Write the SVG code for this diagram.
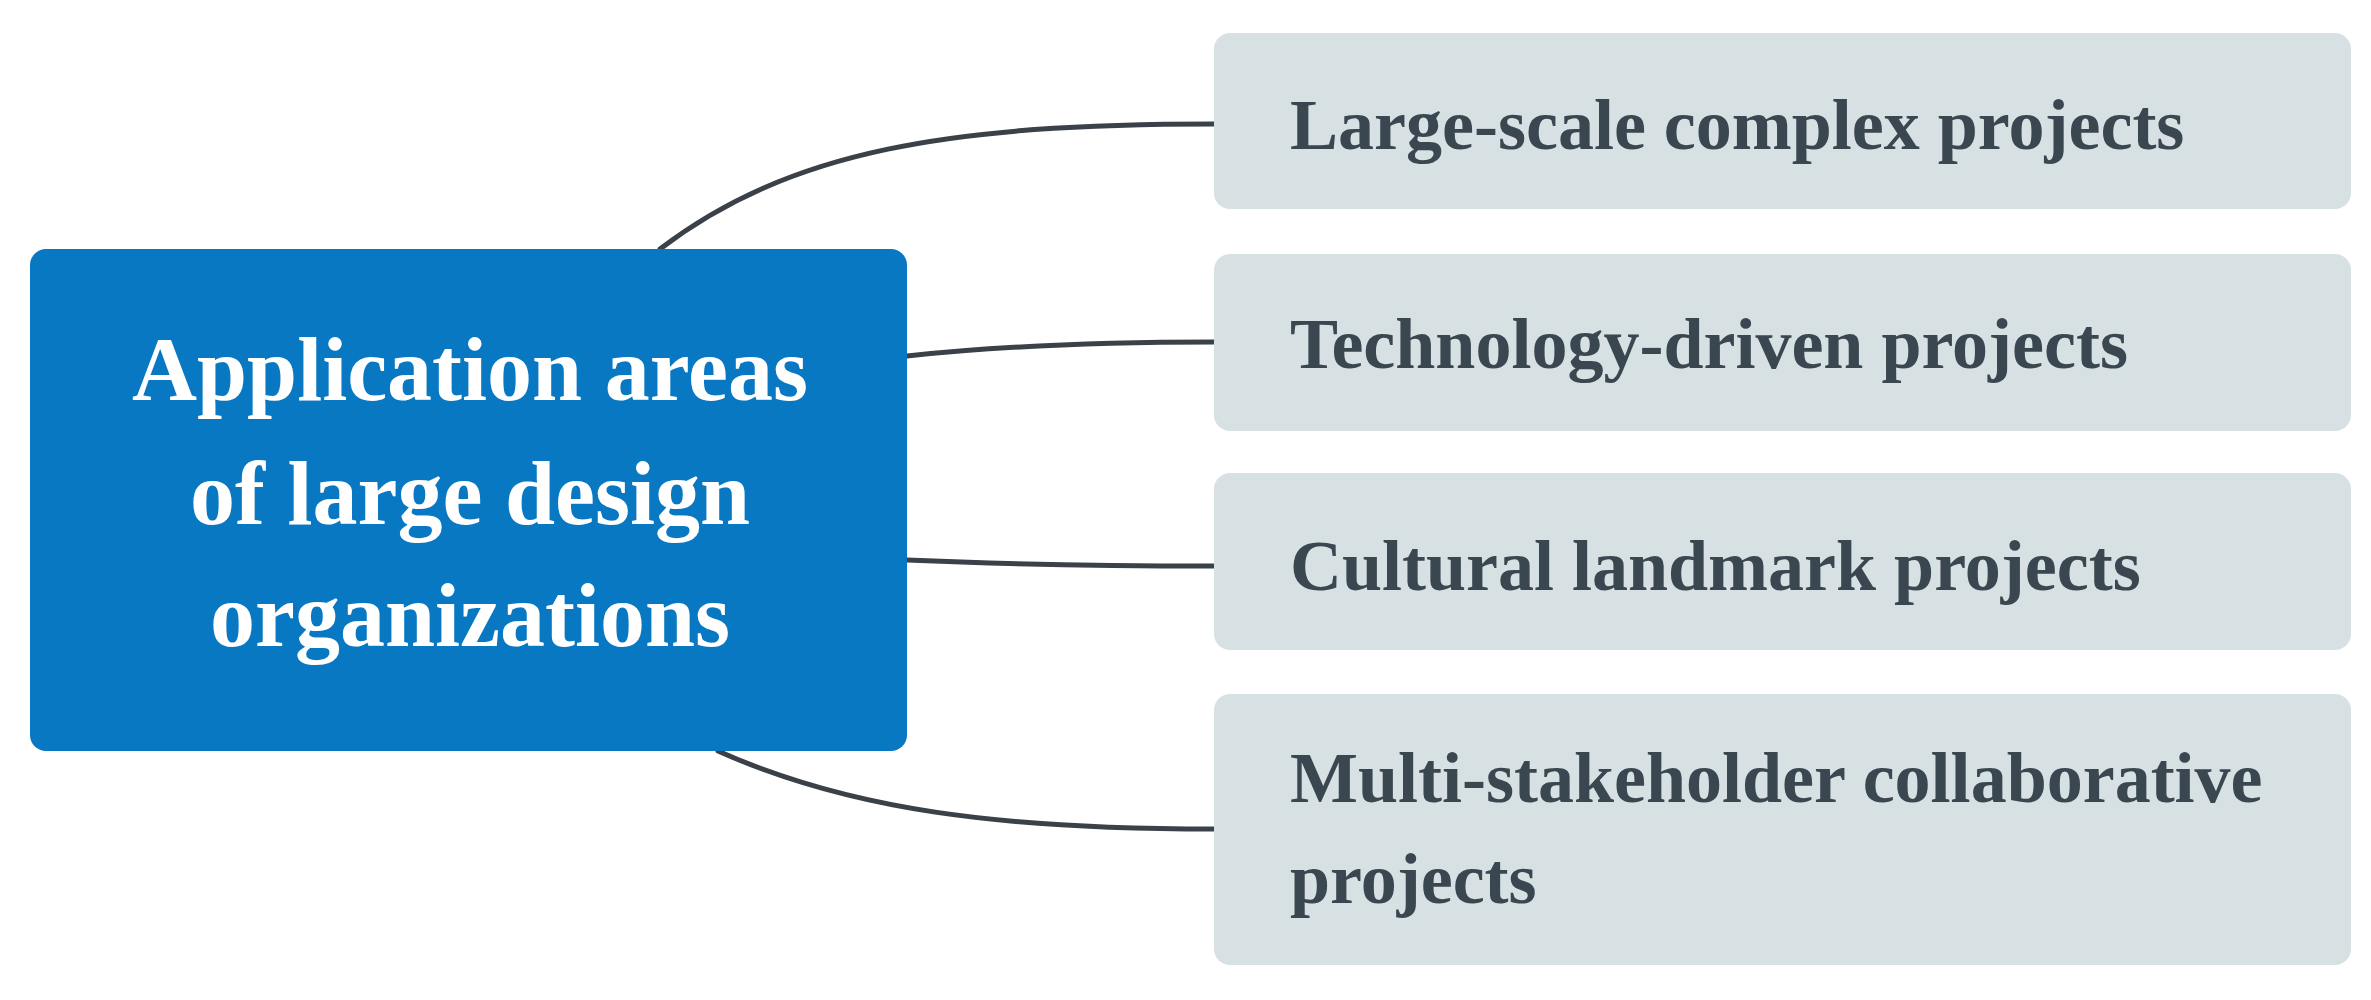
<svg xmlns="http://www.w3.org/2000/svg" width="2371" height="1000" viewBox="0 0 2371 1000">
<style>
.bg{fill:#ffffff}
.root{fill:#0878c2}
.leaf{fill:#d7e1e3}
.rt{font-family:"Liberation Serif","Times New Roman",serif;font-weight:bold;font-size:90px;fill:#ffffff;text-anchor:middle}
.lt{font-family:"Liberation Serif","Times New Roman",serif;font-weight:bold;font-size:72px;fill:#3b4750}
.conn{fill:none;stroke:#3a4148;stroke-width:5;stroke-linecap:round}
</style>
<rect class="bg" x="0" y="0" width="2371" height="1000"/>
<g id="connectors">
<path class="conn" d="M660 249 C790 150 950 124 1214 124"/>
<path class="conn" d="M907 356 C1000 346 1100 342 1214 342"/>
<path class="conn" d="M907 560 C1000 564 1100 566 1214 566"/>
<path class="conn" d="M718 751 C850 810 1000 829 1214 829"/>
</g>
<g id="root">
<rect class="root" x="30" y="249" width="877" height="502" rx="16"/>
<text class="rt" x="470" y="400">Application areas</text>
<text class="rt" x="470" y="524">of large design</text>
<text class="rt" x="470" y="646">organizations</text>
</g>
<g id="n1">
<rect class="leaf" x="1214" y="33" width="1137" height="176" rx="16"/>
<text class="lt" x="1290" y="149">Large-scale complex projects</text>
</g>
<g id="n2">
<rect class="leaf" x="1214" y="254" width="1137" height="177" rx="16"/>
<text class="lt" x="1290" y="368">Technology-driven projects</text>
</g>
<g id="n3">
<rect class="leaf" x="1214" y="473" width="1137" height="177" rx="16"/>
<text class="lt" x="1290" y="590">Cultural landmark projects</text>
</g>
<g id="n4">
<rect class="leaf" x="1214" y="694" width="1137" height="271" rx="16"/>
<text class="lt" x="1290" y="802">Multi-stakeholder collaborative</text>
<text class="lt" x="1290" y="903">projects</text>
</g>
</svg>
